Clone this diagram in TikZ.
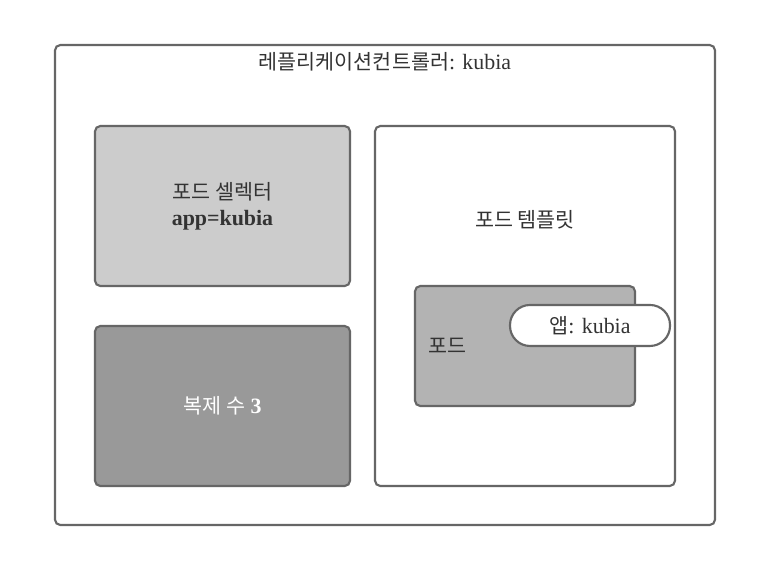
\documentclass[tikz,border=0pt]{standalone}
\usepackage{fontspec}
\setmainfont{Liberation Serif}[Scale=1.06]
\newfontfamily\kr{Noto Sans CJK KR}
\usepackage{tikz}
\usetikzlibrary{positioning}
\usepackage{xcolor}
\definecolor{boxline}{RGB}{102,102,102}
\definecolor{textgray}{RGB}{51,51,51}
\definecolor{selfill}{RGB}{204,204,204}
\definecolor{podfill}{RGB}{179,179,179}
\definecolor{repfill}{RGB}{153,153,153}

\begin{document}
\begin{tikzpicture}[
    font=\fontsize{15.5}{19.5}\selectfont,
    text=textgray,
    box/.style={rectangle, draw=boxline, line width=1.6pt, rounded corners=4pt, outer sep=0pt},
    selbox/.style={box, fill=selfill, minimum width=191.25pt, minimum height=120pt, align=center},
    repbox/.style={box, fill=repfill, minimum width=191.25pt, minimum height=120pt, text=white},
    tag/.style={box, fill=white, rounded corners=15pt, minimum width=120pt, minimum height=30.75pt}
]
    \useasboundingbox (0,0) rectangle (577.5pt,-429pt);

    % Replication controller
    \node[box, fill=white, minimum width=495pt, minimum height=360pt] (rc) at (288.75pt,-213.75pt) {};
    \node (rctitle) at ([yshift=-12.75pt]rc.north) {{\kr 레플리케이션컨트롤러}: kubia};

    % Selector and replicas
    \node[selbox, below right=60.75pt and 30pt of rc.north west] (sel) {{\kr 포드 셀렉터}\\\textbf{app=kubia}};
    \node[repbox, below=30pt of sel] (rep) {{\kr 복제 수} \textbf{3}};

    % Pod template
    \node[box, fill=white, minimum width=225pt, minimum height=270pt, below right=0pt and 18.75pt of sel.north east] (tmpl) {};
    \node (tmpltext) at ([yshift=-70.5pt]tmpl.north) {\kr 포드 템플릿};

    % Pod
    \node[box, fill=podfill, minimum width=165pt, minimum height=90pt, below right=120pt and 30pt of tmpl.north west] (pod) {};
    \node[right=6.5pt of pod.west] (podtext) {\kr 포드};

    % Label
    \node[tag] (applabel) at ([xshift=-33.75pt,yshift=-29.6pt]pod.north east) {{\kr 앱}: kubia};
\end{tikzpicture}
\end{document}
